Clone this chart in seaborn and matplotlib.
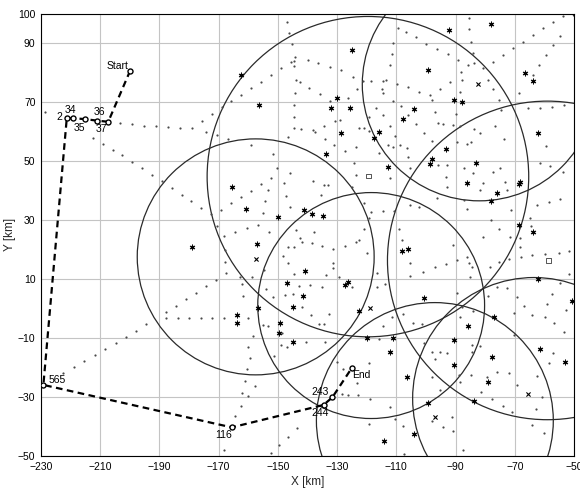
import matplotlib
matplotlib.use("Agg")
import matplotlib.pyplot as plt
from matplotlib.patches import Circle
import pandas as pd
import seaborn as sns

# ---------------- data (km) ----------------
path_labels = ["Start", "37", "36", "35", "34", "2", "565", "116", "244", "243", "End"]
path_x = [-199.9, -207.3, -211.2, -215.1, -219.1, -221.3, -229.2, -165.6, -134.6, -131.6, -125.0]
path_y = [80.6, 63.3, 63.7, 64.2, 64.5, 64.5, -25.9, -40.3, -32.7, -30.1, -20.1]

label_x = [-204.0, -209.5, -210.4, -217.2, -220.0, -223.9, -224.5, -168.5, -135.7, -135.7, -121.7]
label_y = [82.2, 60.8, 66.6, 61.3, 67.3, 64.9, -24.2, -42.9, -35.5, -28.2, -22.5]

circle_cx = [-119.6, -82.0, -59.0, -157.5, -118.5, -97.0, -63.5]
circle_cy = [44.7, 76.0, 16.3, 17.5, 1.0, -38.0, -30.5]
circle_r = [54.3, 39.5, 54.0, 40.0, 38.3, 40.0, 41.0]

dot_x = [
    -228.6, -203.3, -199.2, -195.2, -191.3, -187.2, -183.0, -179.1,
    -212.4, -209.0, -205.8, -202.5, -199.2, -195.8, -192.6, -189.2, -185.8, -182.5, -179.3, -176.0,
    -172.6, -170.6, -168.2, -167.8, -167.8, -167.6, -170.9, -174.3, -177.6, -181.0, -184.4, -187.8,
    -222.5, -218.9, -215.4, -211.8, -208.4, -204.8, -201.3, -197.9, -194.5,
    -187.9, -183.8, -180.0, -175.9, -172.1, -168.1, -160.0,
    -164.5, -162.5, -162.2, -160.0, -161.1, -157.7, -160.3, -159.4, -160.0, -158.3, -168.2, -149.6,
    -152.4, -146.5, -143.6, -151.3, -153.2, -154.9, -148.9,
    # upper centre
    -147.0, -146.2, -145.3, -144.2, -145.6, -144.5, -144.4, -140.0, -136.3, -132.4, -128.6, -149.0,
    -152.4, -155.8, -159.1, -162.4, -165.8, -169.0, -172.3, -175.7, -174.4, -170.6, -166.7, -159.1,
    -144.0, -142.7, -139.4, -135.7, -144.2, -144.4, -144.4, -144.6, -146.7, -142.3, -138.2, -137.4,
    -134.6, -134.0, -132.4, -130.7, -129.0, -130.9, -126.4, -124.7, -123.3, -121.1, -118.5, -114.6,
    -114.9, -114.4, -111.2, -116.8, -114.4, -119.4, -122.5, -120.9, -119.4, -123.6, -110.6, -112.1,
    -112.7, -111.0, -109.6, -111.0, -111.5, -112.3,
    # upper right
    -106.8, -103.4, -99.9, -96.3, -92.7, -89.2, -85.8, -83.7, -88.1, -87.9, -88.5, -85.6,
    -85.3, -84.7, -84.2, -80.6, -77.4, -74.0, -70.6, -67.3, -63.9, -60.6, -57.1, -53.7,
    -54.7, -57.0, -59.4, -61.7, -63.9, -68.7, -78.9, -77.2, -75.5, -74.6, -65.6, -61.4,
    -57.5, -53.5, -113.4, -109.9, -105.9, -102.2, -98.6, -95.2, -91.8, -98.0, -96.9, -94.3,
    -95.8, -90.9, -88.5, -89.8, -108.5, -105.9, -103.3, -100.5, -98.0, -108.9, -106.5, -83.7,
    -81.9, -76.6, -73.8, -84.7, -86.2, -89.4, -59.4,
    # left middle
    -151.5, -150.4, -145.9, -148.1, -152.4, -155.7, -159.1, -162.5, -165.8, -169.3, -154.3, -155.2,
    -147.2, -145.9, -153.2, -156.8, -160.5, -164.5, -153.0, -144.0, -144.4, -146.7, -148.4, -146.5,
    -154.7, -144.4, -142.8, -147.6, -145.0, -151.5, -154.1, -158.8, -162.8, -162.2, -161.7, -142.7,
    # centre / right middle
    -124.3, -123.6, -127.5, -138.2, -134.6, -133.1, -135.5, -125.0, -120.8, -118.5, -114.6, -110.7,
    -119.4, -120.8, -123.6, -122.5, -127.5, -131.3, -135.0, -137.7, -141.9, -138.5, -131.5, -131.3,
    -133.7, -129.3, -120.0, -116.4, -113.8, -116.4, -125.0, -139.1, -135.2, -108.1, -109.0, -105.3,
    -105.5, -101.0, -97.1, -93.2, -89.6, -86.2, -85.6, -84.5, -78.3, -75.2, -71.8, -67.9,
    -64.2, -59.7, -55.2, -51.8, -91.0, -80.6, -75.2, -78.0, -68.2, -64.5, -58.3, -54.7,
    -62.6, -64.8, -58.0, -61.4, -53.6, -84.0, -87.3, -92.9, -95.8, -75.1, -73.4, -72.7,
    -71.2, -80.8, -81.7, -77.4, -87.0, -86.2, -92.9, -93.2, -96.3, -105.3, -102.5, -105.3,
    -106.2, -115.8, -112.1, -71.5, -68.2, -51.8, -54.7, -76.0, -72.7, -78.9, -69.3, -57.5,
    -85.1, -89.6,
    # lower
    -141.9, -138.9, -136.0, -132.9, -134.6, -148.7, -146.8, -140.5, -134.1, -130.1, -128.1, -126.2,
    -128.4, -122.8, -123.4, -119.4, -119.0, -115.7, -112.1, -110.4, -107.8, -107.4, -119.4, -114.4,
    -111.5, -107.6, -104.5, -101.4, -100.8, -98.0, -95.2, -92.9, -96.9, -98.0, -95.4, -98.0,
    -94.3, -90.9, -91.3, -87.6, -84.9, -84.5, -84.5, -88.7, -88.5, -81.7, -79.4, -76.0,
    -72.1, -77.8, -74.0, -71.0, -69.1, -81.3, -87.9, -88.5, -84.2, -70.4, -67.0, -64.2,
    -59.7, -59.2, -56.8, -53.4, -57.2, -58.6, -62.5, -60.8, -62.8, -60.1, -64.2, -70.4,
    -52.6,
]
dot_y = [
    66.7, 63.0, 62.4, 62.0, 61.8, 61.5, 61.2, 61.1,
    57.9, 55.7, 53.6, 52.2, 49.8, 47.6, 45.4, 43.1, 40.9, 38.6, 36.4, 34.2,
    31.9, 27.9, 24.6, 19.8, 15.9, 11.9, 9.7, 7.6, 5.4, 3.1, 0.9, -1.1,
    -21.8, -19.7, -17.8, -15.8, -13.7, -11.6, -9.6, -7.6, -5.4,
    -3.3, -3.3, -3.3, -3.3, -3.3, -3.3, -3.3,
    -36.4, -33.0, -28.7, -29.6, -24.6, -26.3, -20.6, -16.9, -13.0, -9.3, -48.0, -46.3,
    -48.9, -43.5, -40.6, -16.0, -5.9, -5.6, -12.4,
    # upper centre
    97.2, 93.3, 89.6, 85.4, 83.4, 84.0, 82.2, 84.3, 83.2, 81.9, 80.8, 81.4,
    79.2, 76.9, 74.8, 72.5, 70.5, 68.3, 66.0, 63.7, 60.0, 58.9, 57.6, 55.3,
    77.5, 76.7, 74.9, 72.6, 72.9, 69.0, 65.0, 61.1, 58.2, 60.9, 60.6, 59.8,
    61.9, 57.5, 70.5, 63.6, 63.9, 55.3, 71.5, 78.6, 74.4, 77.1, 77.2, 77.1,
    74.4, 73.2, 70.5, 68.1, 65.6, 65.0, 61.3, 61.1, 60.3, 54.7, 58.5, 62.0,
    55.3, 54.6, 95.0, 89.9, 86.2, 82.5,
    # upper right
    93.6, 91.9, 89.8, 88.0, 86.3, 84.4, 82.5, 83.1, 80.3, 77.4, 73.4, 98.6,
    94.7, 90.5, 86.6, 81.5, 83.7, 86.0, 88.3, 90.5, 92.7, 95.0, 97.0, 99.3,
    92.5, 89.2, 85.8, 82.4, 79.3, 73.2, 77.5, 74.3, 70.6, 67.2, 68.1, 68.1,
    68.4, 68.9, 77.3, 76.1, 75.0, 73.5, 72.4, 74.4, 76.9, 70.8, 66.7, 62.7,
    63.0, 62.1, 61.9, 65.8, 68.6, 65.6, 62.5, 59.5, 56.9, 55.3, 54.5, 61.0,
    59.6, 61.9, 57.3, 56.4, 55.9, 56.4, 55.2,
    # left middle
    52.4, 47.5, 46.0, 42.4, 44.1, 42.1, 39.8, 37.9, 35.7, 33.4, 36.4, 32.5,
    38.1, 34.5, 40.2, 28.3, 27.2, 26.0, 26.0, 26.6, 21.0, 20.7, 17.8, 15.3,
    13.1, 11.7, 7.6, 4.6, 4.9, 4.0, 6.5, 10.6, 10.6, 8.2, 4.3, 23.8,
    # centre / right middle
    49.3, 45.3, 53.3, 43.3, 41.9, 41.9, 38.5, 41.3, 35.9, 32.8, 33.2, 33.2,
    30.6, 27.1, 22.7, 23.2, 21.3, 20.1, 21.2, 26.0, 22.7, 22.3, 15.3, 13.6,
    11.3, 10.8, 18.9, 11.9, 8.3, 7.4, 7.4, 8.0, 7.4, 23.2, 27.1, 15.3,
    11.0, 12.5, 14.0, 15.0, 16.4, 17.6, 15.3, 14.0, 14.0, 15.7, 16.8, 17.4,
    18.0, 18.4, 18.9, 19.4, 21.5, 24.1, 27.1, 30.0, 23.8, 27.8, 36.2, 37.0,
    35.1, 30.6, 48.2, 49.3, 46.4, 45.9, 47.6, 48.7, 48.7, 47.6, 42.8, 40.3,
    33.5, 42.7, 40.2, 46.4, 36.8, 33.6, 41.3, 44.7, 37.4, 35.1, 34.5, 47.6,
    51.5, 52.7, 44.3, 24.1, 21.0, 11.7, 8.5, 7.4, 7.1, 4.2, 4.0, 4.9,
    10.8, 5.2,
    # lower
    0.6, -2.2, -5.3, -1.9, -5.3, -8.3, -13.0, -11.5, -11.3, -18.0, -20.6, -29.3,
    -29.0, -29.3, -25.4, -18.4, -30.8, -10.4, -33.3, -37.6, -39.8, -49.3, -39.0, -6.1,
    -2.8, -2.0, -4.8, -5.3, -11.8, -14.6, -14.6, -15.0, -17.2, -23.3, -27.6, -38.3,
    -40.1, -41.4, -36.7, -48.0, -22.5, -14.6, -12.4, -22.5, -24.8, -12.7, -23.2, -21.4,
    -22.0, -30.8, -33.1, -35.0, -25.9, -28.2, 0.6, -2.8, -0.7, -1.6, 1.0, -2.2,
    -3.0, 1.5, -5.0, -7.9, -15.2, -18.4, -22.9, -29.9, -34.2, -42.1, -39.5, -9.0,
    -0.5,
]

star_x = [-163.9, -163.9, -156.8, -149.3, -149.6, -145.0, -144.8,
          -122.5, -120.0, -112.1, -111.2, -106.5, -99.2, -103.9, -114.1, -90.7, -90.7, -85.9,
          -77.8, -78.9, -83.9, -61.4, -53.0, -76.9, -50.7,
          -162.4, -156.4, -125.0, -130.1, -132.1, -125.8, -128.6, -116.0, -117.5,
          -92.2, -78.1, -99.2, -66.5, -63.9, -90.7, -87.9, -104.2, -107.9, -62.3, -93.4,
          -165.4, -160.7, -149.8, -179.1, -157.1, -146.8,
          -133.7, -112.9, -98.8, -98.0, -83.0, -86.2, -76.0, -78.0, -68.7, -68.2, -141.1, -138.5,
          -134.8, -68.7, -63.9, -108.1, -105.9, -140.8, -127.5, -126.4, -141.6, -100.8, -62.0]
star_y = [-2.2, -4.8, 0.1, -5.0, -8.2, 0.6, -11.5,
          -0.8, -10.1, -14.6, -10.1, -23.3, -32.2, -42.6, -44.9, -10.7, -19.2, -6.1,
          -16.5, -24.8, -31.4, -13.7, -18.0, -3.0, 2.6,
          79.2, 69.0, 87.8, 71.5, 68.1, 67.9, 59.6, 59.9, 57.8,
          94.4, 96.3, 80.9, 79.7, 77.1, 70.6, 70.0, 67.7, 64.1, 59.6, 54.1,
          41.3, 33.6, 31.1, 21.0, 21.9, 8.5,
          52.3, 48.1, 49.0, 50.6, 49.2, 42.7, 39.3, 36.4, 42.1, 42.8, 33.4, 32.0,
          31.4, 28.3, 26.0, 19.5, 20.1, 12.8, 8.1, 9.0, 4.2, 3.7, 9.9]

xmark_x = [-157.5, -82.5, -118.9, -96.9, -65.4]
xmark_y = [16.8, 76.1, 0.1, -36.7, -29.0]

square_x = [-119.4, -58.6]
square_y = [44.9, 16.4]

x_ticks = [-230, -210, -190, -170, -150, -130, -110, -90, -70, -50]
y_ticks = [-50, -30, -10, 10, 30, 50, 70, 90, 100]

# ---------------- drawing ----------------
sns.set_style("whitegrid", {"grid.color": "#c4c4c4", "axes.edgecolor": "black"})
plt.rcParams["font.family"] = ["Liberation Sans", "DejaVu Sans"]

fig, ax = plt.subplots(figsize=(5.8, 4.88), dpi=100)
fig.subplots_adjust(left=0.0707, right=0.9897, bottom=0.0656, top=0.9723)

for cx, cy, r in zip(circle_cx, circle_cy, circle_r):
    ax.add_patch(Circle((cx, cy), r, fill=False, edgecolor="#2a2a2a", linewidth=0.9, zorder=2))

sns.scatterplot(x=dot_x, y=dot_y, s=2.5, color="#4a4a4a", linewidth=0, ax=ax, zorder=3)
sns.scatterplot(x=star_x, y=star_y, marker=(6, 2, 0), s=12, color="#111111",
                linewidth=0.8, ax=ax, zorder=4)
sns.scatterplot(x=star_x, y=star_y, s=5, color="black", linewidth=0, ax=ax, zorder=4)
sns.scatterplot(x=xmark_x, y=xmark_y, marker="x", s=9, color="black", linewidth=0.8, ax=ax, zorder=4)
sns.scatterplot(x=square_x, y=square_y, marker="s", s=12, facecolor="none",
                edgecolor="#555555", linewidth=0.7, ax=ax, zorder=4)

path_df = pd.DataFrame({"x": path_x, "y": path_y, "order": range(len(path_x))})
sns.lineplot(data=path_df, x="x", y="y", sort=False, estimator=None, color="black",
             linewidth=1.6, dashes=False, ax=ax, zorder=5)
ax.lines[-1].set_dashes((3, 2))
sns.scatterplot(data=path_df, x="x", y="y", s=13, facecolor="white", edgecolor="black",
                linewidth=1.0, ax=ax, zorder=6)

for t, lx, ly in zip(path_labels, label_x, label_y):
    ax.text(lx, ly, t, ha="center", va="center", fontsize=7.5, color="black", zorder=7)

ax.set_xlim(-230, -50)
ax.set_ylim(-50, 100)
ax.set_xticks(x_ticks)
ax.set_yticks(y_ticks)
ax.tick_params(labelsize=7.5, length=0, pad=4, colors="black")
ax.grid(True, color="#c4c4c4", linewidth=0.8)
for sp in ax.spines.values():
    sp.set_color("black")
    sp.set_linewidth(0.8)
ax.set_xlabel("X [km]", fontsize=8.5, labelpad=3)
ax.set_ylabel("Y [km]", fontsize=8.5, labelpad=1)

fig.savefig("out.png", dpi=100)
